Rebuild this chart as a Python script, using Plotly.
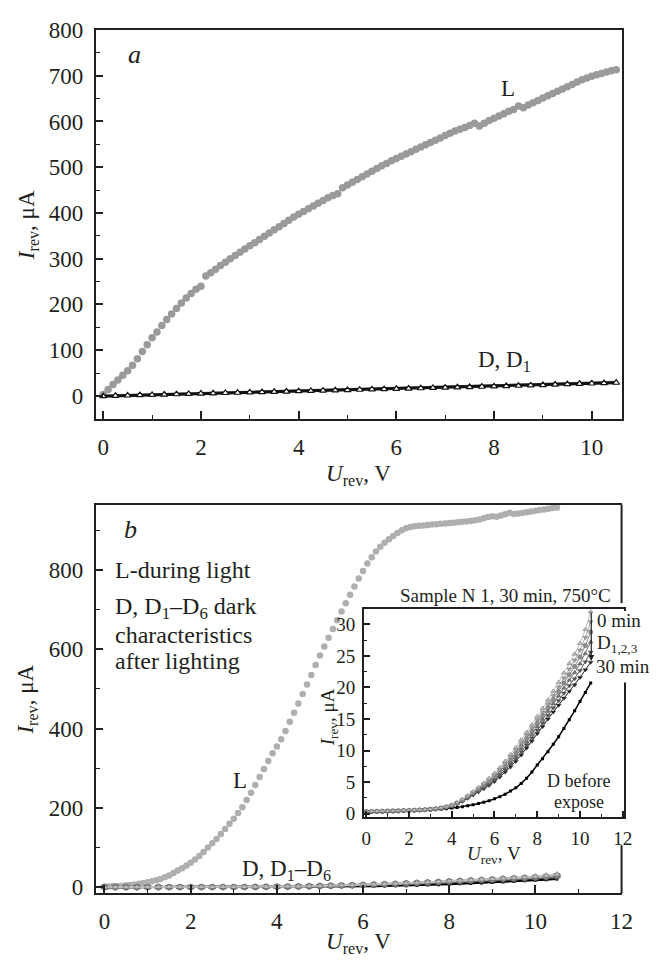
import plotly.graph_objects as go

W, H = 672, 962
def px(x): return x / W
def py(y): return 1 - y / H

# ---------------- data ----------------
U_L = [0.0, 0.1, 0.2, 0.3, 0.4, 0.5, 0.6, 0.7, 0.8, 0.9,
       1.0, 1.1, 1.2, 1.3, 1.4, 1.5, 1.6, 1.7, 1.8, 1.9,
       2.0, 2.1, 2.2, 2.3, 2.4, 2.5, 2.6, 2.7, 2.8, 2.9,
       3.0, 3.1, 3.2, 3.3, 3.4, 3.5, 3.6, 3.7, 3.8, 3.9,
       4.0, 4.1, 4.2, 4.3, 4.4, 4.5, 4.6, 4.7, 4.8, 4.9,
       5.0, 5.1, 5.2, 5.3, 5.4, 5.5, 5.6, 5.7, 5.8, 5.9,
       6.0, 6.1, 6.2, 6.3, 6.4, 6.5, 6.6, 6.7, 6.8, 6.9,
       7.0, 7.1, 7.2, 7.3, 7.4, 7.5, 7.6, 7.7, 7.8, 7.9,
       8.0, 8.1, 8.2, 8.3, 8.4, 8.5, 8.6, 8.7, 8.8, 8.9,
       9.0, 9.1, 9.2, 9.3, 9.4, 9.5, 9.6, 9.7, 9.8, 9.9,
       10.0, 10.1, 10.2, 10.3, 10.4, 10.5]

U_D = [0.0, 0.25, 0.5, 0.75, 1.0, 1.25, 1.5, 1.75, 2.0, 2.25,
       2.5, 2.75, 3.0, 3.25, 3.5, 3.75, 4.0, 4.25, 4.5, 4.75,
       5.0, 5.25, 5.5, 5.75, 6.0, 6.25, 6.5, 6.75, 7.0, 7.25,
       7.5, 7.75, 8.0, 8.25, 8.5, 8.75, 9.0, 9.25, 9.5, 9.75,
       10.0, 10.25, 10.5]

# panel a
L_A = [3, 14, 25, 35, 45, 55, 67, 81, 97, 112,
       127, 140, 154, 167, 179, 191, 203, 214, 224, 233,
       240, 262, 269, 277, 285, 292, 300, 307, 314, 321,
       328, 335, 342, 349, 356, 363, 370, 377, 384, 391,
       397, 403, 409, 415, 421, 427, 433, 438, 442, 455,
       461, 467, 473, 479, 485, 491, 497, 503, 508, 514,
       519, 524, 529, 534, 539, 544, 549, 554, 559, 564,
       569, 574, 579, 583, 587, 591, 596, 590, 596, 602,
       607, 612, 617, 622, 626, 634, 630, 636, 641, 646,
       651, 656, 661, 666, 671, 676, 681, 686, 691, 695,
       699, 702, 705, 708, 711, 713]
D_A = [-0.5, 0.2, 0.9, 1.6, 2.3, 3.0, 3.7, 4.4, 5.1, 5.7,
       6.4, 7.0, 7.7, 8.3, 9.0, 9.6, 10.3, 10.9, 11.6, 12.2,
       12.9, 13.5, 14.2, 14.8, 15.5, 16.1, 16.8, 17.4, 18.1, 18.8,
       19.4, 20.1, 20.8, 21.5, 22.2, 22.9, 23.7, 24.8, 25.6, 26.4,
       27.2, 28.0, 28.8]
D1_A = [0.8, 1.5, 2.2, 2.9, 3.6, 4.3, 5.0, 5.7, 6.3, 7.0,
        7.6, 8.3, 8.9, 9.6, 10.2, 10.9, 11.5, 12.2, 12.8, 13.5,
        14.1, 14.8, 15.4, 16.1, 16.8, 17.4, 18.1, 18.8, 19.5, 20.2,
        20.9, 21.6, 22.3, 23.1, 23.9, 24.7, 25.5, 26.8, 27.7, 28.6,
        29.5, 30.4, 31.2]

# panel b
L_B = [2, 2, 3, 3, 4, 5, 6, 7, 9, 11,
       13, 15, 18, 21, 25, 30, 36, 42, 48, 55,
       62, 70, 79, 89, 100, 111, 122, 134, 147, 160,
       173, 187, 202, 220, 238, 258, 278, 298, 318, 338,
       355, 373, 394, 417, 440, 463, 487, 511, 535, 560,
       584, 607, 629, 651, 673, 695, 716, 737, 758, 778,
       797, 816, 832, 846, 858, 868, 877, 885, 893, 900,
       905, 908, 910, 911, 912, 913, 914, 915, 916, 917,
       918, 919, 920, 921, 922, 923, 925, 927, 930, 933,
       935, 934, 937, 940, 944, 941, 942, 943, 945, 947,
       949, 951, 952, 954, 956, 957]
D_BEFORE = [0.20, 0.22, 0.25, 0.27, 0.30, 0.33, 0.36, 0.40, 0.43, 0.47,
            0.50, 0.55, 0.60, 0.65, 0.72, 0.80, 0.90, 1.00, 1.10, 1.25,
            1.40, 1.60, 1.80, 2.05, 2.35, 2.70, 3.10, 3.60, 4.10, 4.80,
            5.60, 6.60, 7.70, 8.70, 9.80, 11.0, 12.2, 13.5, 14.9, 16.3,
            17.8, 19.2, 20.7]
D1_B = [0.35, 0.37, 0.39, 0.41, 0.43, 0.45, 0.48, 0.51, 0.54, 0.57,
        0.61, 0.66, 0.72, 0.80, 0.92, 1.10, 1.35, 1.75, 2.25, 2.85,
        3.50, 4.15, 4.85, 5.60, 6.40, 7.30, 8.30, 9.40, 10.5, 11.7,
        12.9, 14.1, 15.4, 16.7, 18.0, 19.4, 20.8, 22.3, 23.8, 25.3,
        27.0, 29.2, 32.0]
D2_B = [0.34, 0.36, 0.38, 0.40, 0.42, 0.44, 0.47, 0.50, 0.53, 0.56,
        0.60, 0.65, 0.71, 0.79, 0.90, 1.08, 1.32, 1.71, 2.19, 2.77,
        3.39, 4.01, 4.67, 5.38, 6.14, 7.00, 7.96, 9.00, 10.06, 11.2,
        12.4, 13.6, 14.86, 16.1, 17.4, 18.74, 20.08, 21.5, 22.92, 24.32,
        25.92, 27.92, 30.4]
D3_B = [0.33, 0.35, 0.37, 0.39, 0.41, 0.43, 0.46, 0.49, 0.52, 0.55,
        0.59, 0.64, 0.70, 0.77, 0.88, 1.05, 1.29, 1.67, 2.13, 2.69,
        3.28, 3.87, 4.49, 5.16, 5.88, 6.70, 7.62, 8.60, 9.62, 10.74,
        11.9, 13.06, 14.32, 15.54, 16.8, 18.08, 19.36, 20.7, 22.04, 23.34,
        24.84, 26.64, 28.8]
D4_B = [0.32, 0.34, 0.36, 0.38, 0.40, 0.42, 0.45, 0.48, 0.51, 0.54,
        0.58, 0.62, 0.68, 0.76, 0.87, 1.03, 1.26, 1.63, 2.07, 2.61,
        3.17, 3.73, 4.31, 4.94, 5.62, 6.40, 7.28, 8.20, 9.18, 10.26,
        11.4, 12.54, 13.78, 14.96, 16.2, 17.42, 18.64, 19.9, 21.16, 22.36,
        23.76, 25.36, 27.2]
D5_B = [0.31, 0.33, 0.35, 0.37, 0.39, 0.41, 0.44, 0.47, 0.50, 0.53,
        0.57, 0.61, 0.67, 0.74, 0.85, 1.00, 1.23, 1.59, 2.01, 2.53,
        3.06, 3.59, 4.13, 4.72, 5.36, 6.10, 6.94, 7.80, 8.74, 9.78,
        10.9, 12.02, 13.24, 14.38, 15.6, 16.76, 17.92, 19.1, 20.28, 21.38,
        22.68, 24.08, 25.6]
D6_B = [0.30, 0.32, 0.34, 0.36, 0.38, 0.40, 0.43, 0.46, 0.49, 0.52,
        0.56, 0.60, 0.66, 0.73, 0.83, 0.98, 1.20, 1.55, 1.95, 2.45,
        2.95, 3.45, 3.95, 4.50, 5.10, 5.80, 6.60, 7.40, 8.30, 9.30,
        10.4, 11.5, 12.7, 13.8, 15.0, 16.1, 17.2, 18.3, 19.4, 20.4,
        21.6, 22.8, 24.0]

A_XTICKS = [0, 2, 4, 6, 8, 10]
A_YTICKS = [0, 100, 200, 300, 400, 500, 600, 700, 800]
B_XTICKS = [0, 2, 4, 6, 8, 10, 12]
B_YTICKS = [0, 200, 400, 600, 800]
IN_XTICKS = [0, 2, 4, 6, 8, 10, 12]
IN_YTICKS = [0, 5, 10, 15, 20, 25, 30]

# ---------------- styles ----------------
FONT = "Liberation Serif"
INK = "#231f20"
D_SERIES = [
    (D6_B, "#1a1a1a", "triangle-down"),
    (D5_B, "#555555", "triangle-down"),
    (D4_B, "#747474", "triangle-up"),
    (D3_B, "#8e8e8e", "circle"),
    (D2_B, "#a6a6a6", "triangle-down"),
    (D1_B, "#bdbdbd", "triangle-up"),
]

fig = go.Figure()

# panel a
fig.add_trace(go.Scatter(x=U_L, y=L_A, mode="markers", xaxis="x", yaxis="y",
                         marker=dict(symbol="circle", size=7.5, color="#9a9a9a")))
fig.add_trace(go.Scatter(x=U_D, y=D1_A, mode="lines+markers", xaxis="x", yaxis="y",
                         line=dict(color="#6e6e6e", width=2),
                         marker=dict(symbol="triangle-up", size=6, color="#8a8a8a")))
fig.add_trace(go.Scatter(x=U_D, y=D_A, mode="lines+markers", xaxis="x", yaxis="y",
                         line=dict(color="#111111", width=3),
                         marker=dict(symbol="triangle-up", size=6, color="white",
                                     line=dict(color="#111111", width=1.2))))

# panel b main
fig.add_trace(go.Scatter(x=U_L, y=L_B, mode="markers", xaxis="x2", yaxis="y2",
                         marker=dict(symbol="circle", size=6.5, color="#afafaf")))
fig.add_trace(go.Scatter(x=U_D, y=D_BEFORE, mode="lines+markers", xaxis="x2", yaxis="y2",
                         line=dict(color="#000000", width=2),
                         marker=dict(symbol="square", size=3, color="#000000")))
for ys, col, sym in D_SERIES:
    fig.add_trace(go.Scatter(x=U_D, y=ys, mode="lines+markers", xaxis="x2", yaxis="y2",
                             line=dict(color=col, width=2),
                             marker=dict(symbol=sym, size=6, color=col,
                                         line=dict(color="#555555", width=0.5))))

# inset
fig.add_trace(go.Scatter(x=U_D, y=D_BEFORE, mode="lines+markers", xaxis="x3", yaxis="y3",
                         line=dict(color="#000000", width=1.5),
                         marker=dict(symbol="square", size=3, color="#000000")))
for ys, col, sym in D_SERIES:
    fig.add_trace(go.Scatter(x=U_D, y=ys, mode="lines+markers", xaxis="x3", yaxis="y3",
                             line=dict(color=col, width=1),
                             marker=dict(symbol=sym, size=4.5, color=col,
                                         line=dict(color="#555555", width=0.4))))

def ax_common(size, ticklen, mirror=True, standoff=6):
    return dict(showgrid=False, zeroline=False, showline=True, linecolor=INK, linewidth=2,
                mirror=mirror, ticks="inside", ticklen=ticklen, tickwidth=1.5, tickcolor=INK,
                tickfont=dict(family=FONT, size=size, color=INK),
                ticklabelstandoff=standoff)

def minor(dt, ln, w=1.2):
    return dict(dtick=dt, tick0=0, ticklen=ln, ticks="inside", tickcolor=INK, tickwidth=w)

fig.update_layout(
    width=W, height=H, margin=dict(l=0, r=0, t=0, b=0),
    paper_bgcolor="white", plot_bgcolor="white", showlegend=False,
    font=dict(family=FONT, color=INK),
    xaxis=dict(domain=[px(95), px(632.7)], range=[-0.15, 10.61], anchor="y",
               tickmode="array", tickvals=A_XTICKS, minor=minor(1, 4),
               **ax_common(23, 8, standoff=7)),
    yaxis=dict(domain=[py(415), py(18.3)], range=[-50, 800], anchor="x",
               tickmode="array", tickvals=A_YTICKS, minor=minor(50, 4),
               **ax_common(23, 7, standoff=6)),
    xaxis2=dict(domain=[px(95), px(632.7)], range=[-0.2, 12.0], anchor="y2",
                tickmode="array", tickvals=B_XTICKS, minor=minor(1, 4),
                **ax_common(23, 8, standoff=6)),
    yaxis2=dict(domain=[py(899), py(502.7)], range=[-15, 964], anchor="x2",
                tickmode="array", tickvals=B_YTICKS, minor=minor(100, 4),
                **ax_common(23, 7, mirror=False, standoff=6)),
    xaxis3=dict(domain=[px(369.3), px(635)], range=[-0.1, 12.05], anchor="y3",
                tickmode="array", tickvals=IN_XTICKS, minor=minor(1, 3, 1),
                **ax_common(19, 6, standoff=3)),
    yaxis3=dict(domain=[py(821.7), py(609.3)], range=[-0.6, 32.4], anchor="x3",
                tickmode="array", tickvals=IN_YTICKS, minor=minor(2.5, 3, 1),
                **ax_common(19, 6, standoff=3)),
)

# right frame of panel b, interrupted by the inset
shapes = [
    dict(type="line", xref="paper", yref="paper", x0=px(632.7), x1=px(632.7),
         y0=py(502.7), y1=py(603), line=dict(color=INK, width=2)),
    dict(type="line", xref="paper", yref="paper", x0=px(632.7), x1=px(632.7),
         y0=py(850), y1=py(899), line=dict(color=INK, width=2)),
    dict(type="rect", xref="paper", yref="paper", x0=px(604), x1=1.0,
         y0=py(684), y1=py(611), fillcolor="white", line=dict(width=0), layer="above"),
]
fig.update_layout(shapes=shapes)

def ann(text, x, y, size=22, xanchor="center", angle=0):
    return dict(text=text, x=px(x), y=py(y), xref="paper", yref="paper",
                xanchor=xanchor, yanchor="middle", showarrow=False, textangle=angle,
                font=dict(family=FONT, size=size, color=INK))

UREV = "<i>U</i><sub>rev</sub>, V"
IREV = "<i>I</i><sub>rev</sub>, μA"
annotations = [
    ann("<i>a</i>", 135, 43, 26),
    ann("L", 517, 78, 23),
    ann("D, D<sub>1</sub>", 513, 356, 23),
    ann(UREV, 364, 472, 23),
    ann(IREV, 25, 217, 23, angle=-90),
    ann("<i>b</i>", 130, 528, 26),
    ann("L-during light", 113, 569, 24, xanchor="left"),
    ann("D, D<sub>1</sub>–D<sub>6</sub> dark", 113, 608, 24, xanchor="left"),
    ann("characteristics", 113, 636, 24, xanchor="left"),
    ann("after lighting", 113, 662, 24, xanchor="left"),
    ann("L", 242, 784, 23),
    ann("D, D<sub>1</sub>–D<sub>6</sub>", 290, 875, 23),
    ann(UREV, 364, 950, 23),
    ann(IREV, 25, 701, 23, angle=-90),
    ann("Sample N 1, 30 min, 750°C", 514, 595, 19),
    ann("0 min", 606, 621, 19, xanchor="left"),
    ann("D<sub>1,2,3</sub>", 606, 645, 19, xanchor="left"),
    ann("30 min", 604, 668, 19, xanchor="left"),
    ann("D before", 589, 785, 18),
    ann("expose", 589, 806, 18),
    ann(UREV, 502, 860, 19),
    ann(IREV, 333, 720, 19, angle=-90),
    dict(x=px(601.7), y=py(662), xref="paper", yref="paper", text="", showarrow=True,
         ax=0, ay=-50, arrowhead=2, arrowsize=1, arrowwidth=1.2, arrowcolor=INK),
]
fig.update_layout(annotations=annotations)

fig.write_html("out.html")
